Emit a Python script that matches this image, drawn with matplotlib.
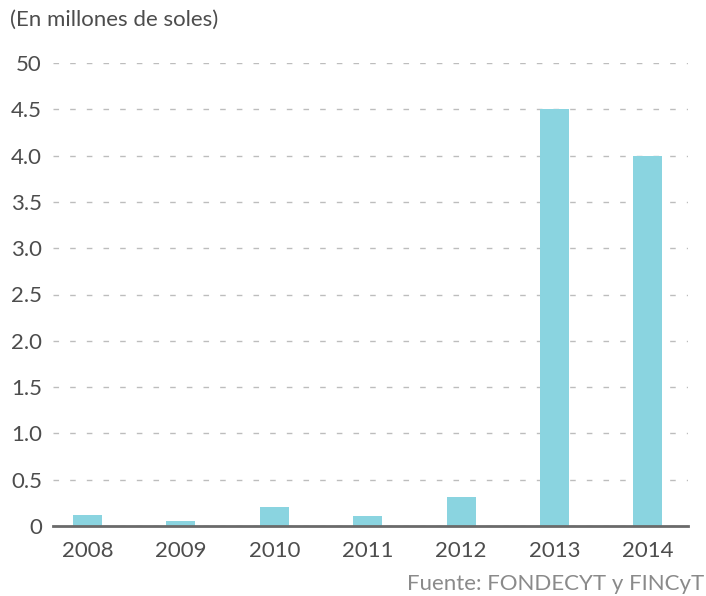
import matplotlib
matplotlib.use("Agg")
import matplotlib.pyplot as plt

years = ["2008", "2009", "2010", "2011", "2012", "2013", "2014"]
values = [0.12, 0.05, 0.20, 0.11, 0.31, 4.50, 4.00]
ytick_vals = [0, 0.5, 1.0, 1.5, 2.0, 2.5, 3.0, 3.5, 4.0, 4.5, 5.0]
ytick_labels = ["0", "0.5", "1.0", "1.5", "2.0", "2.5", "3.0", "3.5", "4.0", "4.5", "50"]
title = "(En millones de soles)"
source = "Fuente: FONDECYT y FINCyT"

plt.rcParams['font.family'] = ['Lato', 'DejaVu Sans']

W, H = 706, 596
fig = plt.figure(figsize=(W / 100, H / 100), dpi=100)
left, right, top, bottom = 53, 688, 63, 526
ax = fig.add_axes([left / W, 1 - bottom / H, (right - left) / W, (bottom - top) / H])

x = list(range(len(years)))
ax.bar(x, values, width=0.31, color="#8ad4e0", zorder=3)

ax.set_xlim(-0.37, 6.43)
ax.set_ylim(0, 5.0)
ax.set_yticks(ytick_vals)
ax.set_yticklabels(ytick_labels)
ax.set_xticks(x)
ax.set_xticklabels(years)

ax.grid(axis='y', color="#bdbdbd", linestyle=(0, (4, 8)), linewidth=1.0, zorder=0)
ax.grid(axis='x', visible=False)
for s in ["top", "right", "left"]:
    ax.spines[s].set_visible(False)
ax.spines["bottom"].set_color("#6a6a6a")
ax.spines["bottom"].set_linewidth(2)
ax.spines["bottom"].set_zorder(4)

fs = 16
ax.tick_params(axis='y', length=0, pad=8, labelsize=fs, labelcolor="#4d4d4d")
ax.tick_params(axis='x', length=0, pad=11, labelsize=fs, labelcolor="#4d4d4d")

fig.text(10 / W, 1 - 20 / H, title, fontsize=fs, color="#4d4d4d", va="center", ha="left")
fig.text(704 / W, 1 - 584 / H, source, fontsize=fs, color="#8a8a8a", va="center", ha="right")

fig.savefig("out.png", dpi=100)
